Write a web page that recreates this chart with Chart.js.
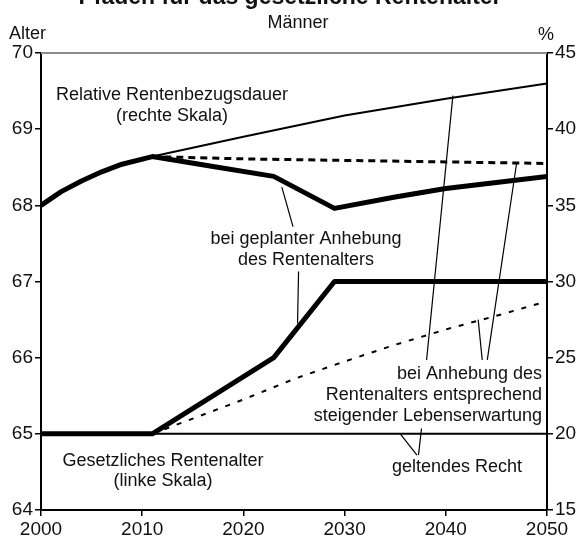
<!DOCTYPE html>
<html>
<head>
<meta charset="utf-8">
<script src="https://cdn.jsdelivr.net/npm/chart.js@4/dist/chart.umd.min.js"></script>
<style>
  html, body { margin: 0; padding: 0; background: #fff; }
  canvas { display: block; }
</style>
</head>
<body>
<canvas id="chart" width="577" height="537"></canvas>
<script>
// Rentenalter (linke Skala, Jahre)
const ageYearsLaw = [2000, 2050];
const ageLaw = [65, 65];
const ageYearsPlan = [2000, 2011, 2023, 2029, 2050];
const agePlan = [65, 65, 66, 67, 67];
const ageYearsLife = [2011, 2015, 2020, 2025, 2030, 2035, 2040, 2045, 2050];
const ageLife = [65, 65.2, 65.45, 65.72, 65.95, 66.17, 66.37, 66.55, 66.74];

// Relative Rentenbezugsdauer (rechte Skala, %)
const durYearsLaw = [2000, 2002, 2004, 2006, 2008, 2011, 2020, 2030, 2040, 2050];
const durLaw = [35.0, 35.9, 36.6, 37.2, 37.7, 38.2, 39.5, 40.9, 42.0, 43.0];
const durYearsPlan = [2000, 2002, 2004, 2006, 2008, 2011, 2017, 2023, 2029, 2035, 2040, 2045, 2050];
const durPlan = [35.0, 35.9, 36.6, 37.2, 37.7, 38.2, 37.55, 36.9, 34.8, 35.55, 36.1, 36.5, 36.9];
const durYearsLife = [2011, 2020, 2030, 2040, 2050];
const durLife = [38.2, 38.05, 37.95, 37.85, 37.75];

// tick labels
const yearTicks = [2000, 2010, 2020, 2030, 2040, 2050];
const ageTicks = [64, 65, 66, 67, 68, 69, 70];
const pctTicks = [15, 20, 25, 30, 35, 40, 45];

// leader lines (data coordinates)
const leaders = [
  { axis: 'yR', from: [2023.8, 36.2], to: [2024.9, 33.6] },
  { axis: 'yL', from: [2025.45, 67.13], to: [2025.35, 66.45] },
  { axis: 'yR', from: [2038.1, 24.85], to: [2040.7, 42.2] },
  { axis: 'yL', from: [2043.6, 65.97], to: [2043.2, 66.5] },
  { axis: 'yR', from: [2044.1, 24.85], to: [2047.0, 37.78] },
  { axis: 'yL', from: [2037.15, 64.72], to: [2035.5, 65.0] },
  { axis: 'yL', from: [2037.3, 64.72], to: [2037.6, 65.07] }
];

const font = "'Liberation Sans', Arial, Helvetica, sans-serif";

const pts = (xs, ys) => xs.map((x, i) => ({ x: x, y: ys[i] }));

const texts = [
  { t: 'Pfaden für das gesetzliche Rentenalter', x: 290, y: 4, align: 'center', bold: true, size: 23 },
  { t: 'Männer', x: 298, y: 28, align: 'center' },
  { t: 'Alter', x: 9, y: 39, align: 'left' },
  { t: '%', x: 546, y: 40, align: 'center' },
  { t: 'Relative Rentenbezugsdauer', x: 172, y: 100, align: 'center' },
  { t: '(rechte Skala)', x: 172, y: 121, align: 'center' },
  { t: 'bei geplanter Anhebung', x: 306, y: 244, align: 'center' },
  { t: 'des Rentenalters', x: 306, y: 265, align: 'center' },
  { t: 'Gesetzliches Rentenalter', x: 163, y: 466, align: 'center' },
  { t: '(linke Skala)', x: 163, y: 486, align: 'center' },
  { t: 'bei Anhebung des', x: 542, y: 379, align: 'right' },
  { t: 'Rentenalters entsprechend', x: 542, y: 400, align: 'right' },
  { t: 'steigender Lebenserwartung', x: 542, y: 421, align: 'right' },
  { t: 'geltendes Recht', x: 457, y: 472, align: 'center' }
];

const notes = {
  id: 'notes',
  afterDraw(chart) {
    const ctx = chart.ctx, a = chart.chartArea, sc = chart.scales;
    ctx.save();
    ctx.strokeStyle = '#8c8c8c';
    ctx.lineWidth = 2;
    ctx.beginPath();
    ctx.moveTo(a.left, a.top);
    ctx.lineTo(a.right, a.top);
    ctx.stroke();

    ctx.strokeStyle = '#000';
    ctx.lineWidth = 1.2;
    leaders.forEach(l => {
      const ys = sc[l.axis];
      ctx.beginPath();
      ctx.moveTo(sc.x.getPixelForValue(l.from[0]), ys.getPixelForValue(l.from[1]));
      ctx.lineTo(sc.x.getPixelForValue(l.to[0]), ys.getPixelForValue(l.to[1]));
      ctx.stroke();
    });

    ctx.fillStyle = '#111';
    ctx.textBaseline = 'alphabetic';
    texts.forEach(o => {
      ctx.font = (o.bold ? 'bold ' : '') + (o.size || 18) + 'px ' + font;
      ctx.textAlign = o.align;
      ctx.fillText(o.t, o.x, o.y);
    });
    ctx.restore();
  }
};

const axisCommon = (ticks, w) => ({
  type: 'linear',
  min: ticks[0],
  max: ticks[ticks.length - 1],
  afterBuildTicks: s => { s.ticks = ticks.map(v => ({ value: v })); },
  afterFit: s => { if (w.width) s.width = w.width; if (w.height) s.height = w.height; },
  grid: { drawOnChartArea: false, drawTicks: true, tickLength: 6, color: '#000', lineWidth: 1.5 },
  border: { display: true, color: '#000', width: 2 },
  ticks: { color: '#111', font: { family: font, size: 19 }, padding: 2, callback: v => String(v) }
});

const xAxis = axisCommon(yearTicks, { height: 27 });
xAxis.position = 'bottom';
const yL = axisCommon(ageTicks, { width: 41 });
yL.position = 'left';
const yR = axisCommon(pctTicks, { width: 30 });
yR.position = 'right';

new Chart(document.getElementById('chart'), {
  type: 'line',
  data: {
    datasets: [
      { data: pts(ageYearsLaw, ageLaw), yAxisID: 'yL', borderColor: '#000', borderWidth: 2 },
      { data: pts(ageYearsLife, ageLife), yAxisID: 'yL', borderColor: '#000', borderWidth: 2, borderDash: [5, 8] },
      { data: pts(ageYearsPlan, agePlan), yAxisID: 'yL', borderColor: '#000', borderWidth: 5 },
      { data: pts(durYearsLaw, durLaw), yAxisID: 'yR', borderColor: '#000', borderWidth: 2 },
      { data: pts(durYearsLife, durLife), yAxisID: 'yR', borderColor: '#000', borderWidth: 3, borderDash: [7, 5] },
      { data: pts(durYearsPlan, durPlan), yAxisID: 'yR', borderColor: '#000', borderWidth: 5 }
    ]
  },
  options: {
    responsive: false,
    animation: false,
    parsing: false,
    layout: { padding: { top: 53, left: 0, right: 0, bottom: 0 } },
    elements: { point: { radius: 0 }, line: { tension: 0, borderJoinStyle: 'round' } },
    plugins: { legend: { display: false }, tooltip: { enabled: false }, title: { display: false } },
    scales: { x: xAxis, yL: yL, yR: yR }
  },
  plugins: [notes]
});
</script>
</body>
</html>
